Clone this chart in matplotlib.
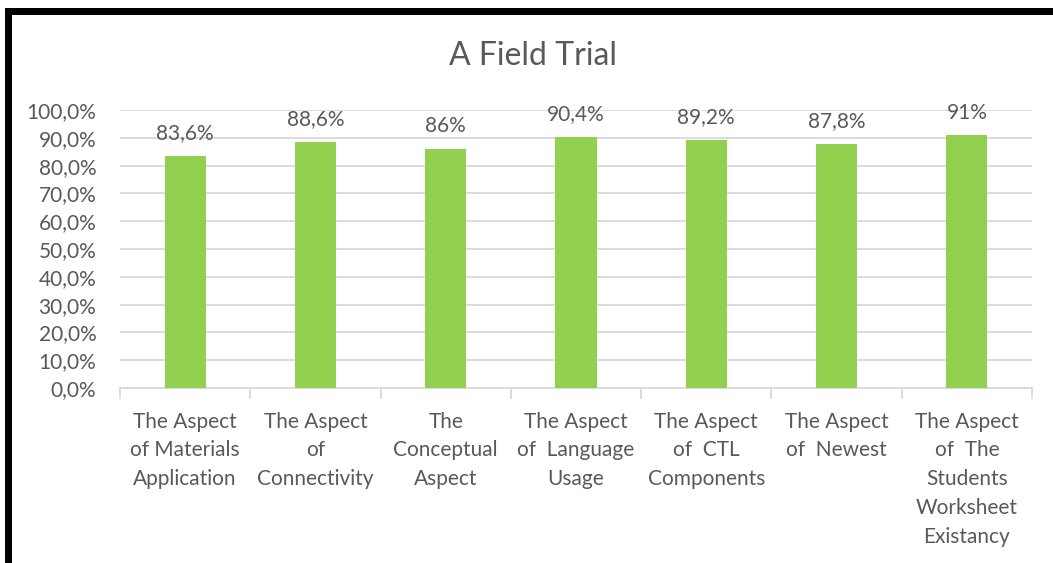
import matplotlib
matplotlib.use("Agg")
import matplotlib.pyplot as plt
from matplotlib.patches import Rectangle
import numpy as np

# chart data
categories = [
    "The Aspect\nof Materials\nApplication",
    "The Aspect\nof\nConnectivity",
    "The\nConceptual\nAspect",
    "The Aspect\nof  Language\nUsage",
    "The Aspect\nof  CTL\nComponents",
    "The Aspect\nof  Newest",
    "The Aspect\nof  The\nStudents\nWorksheet\nExistancy",
]
values = [83.6, 88.6, 86.0, 90.4, 89.2, 87.8, 91.0]
value_labels = ["83,6%", "88,6%", "86%", "90,4%", "89,2%", "87,8%", "91%"]
y_ticks = [0, 10, 20, 30, 40, 50, 60, 70, 80, 90, 100]
y_tick_labels = ["%d,0%%" % t for t in y_ticks]

text_color = "#595959"
grid_color = "#D9D9D9"
bar_color = "#92D050"

plt.rcParams["font.family"] = ["Lato", "DejaVu Sans"]

fig = plt.figure(figsize=(10.53, 5.63), dpi=100)
W, H = 1053, 563

# black frame around the chart (left and top edges)
fig.add_artist(Rectangle((5 / W, 0), 7 / W, (H - 8) / H, transform=fig.transFigure,
                         facecolor="black", edgecolor="none"))
fig.add_artist(Rectangle((5 / W, (H - 15) / H), (W - 5) / W, 7 / H, transform=fig.transFigure,
                         facecolor="black", edgecolor="none"))

ax = fig.add_axes([120 / W, (H - 388) / H, 912 / W, 278 / H])

x = np.arange(len(categories))
ax.bar(x, values, width=0.315, color=bar_color, zorder=3)

for xi, v, lab in zip(x, values, value_labels):
    ax.annotate(lab, (xi, v), xytext=(0, 9), textcoords="offset points",
                ha="center", va="bottom", fontsize=15, color=text_color)

ax.set_xlim(-0.5, len(categories) - 0.5)
ax.set_ylim(0, 100)
ax.set_yticks(y_ticks)
ax.set_yticklabels(y_tick_labels)
ax.set_xticks(x)
ax.set_xticklabels(categories, linespacing=1.55)
ax.set_xticks(np.arange(len(categories) + 1) - 0.5, minor=True)

ax.tick_params(axis="y", length=0, pad=17, labelsize=15, labelcolor=text_color)
ax.tick_params(axis="x", which="major", length=0, pad=17, labelsize=15, labelcolor=text_color)
ax.tick_params(axis="x", which="minor", length=8, color=grid_color, width=1.3)

ax.grid(axis="y", color=grid_color, linewidth=1.3, zorder=0)
for side in ["top", "right", "left"]:
    ax.spines[side].set_visible(False)
ax.spines["bottom"].set_color(grid_color)
ax.spines["bottom"].set_linewidth(1.3)

fig.text(533 / W, (H - 56) / H, "A Field Trial", ha="center", va="center",
         fontsize=23, color=text_color)

fig.savefig("out.png", dpi=100)
